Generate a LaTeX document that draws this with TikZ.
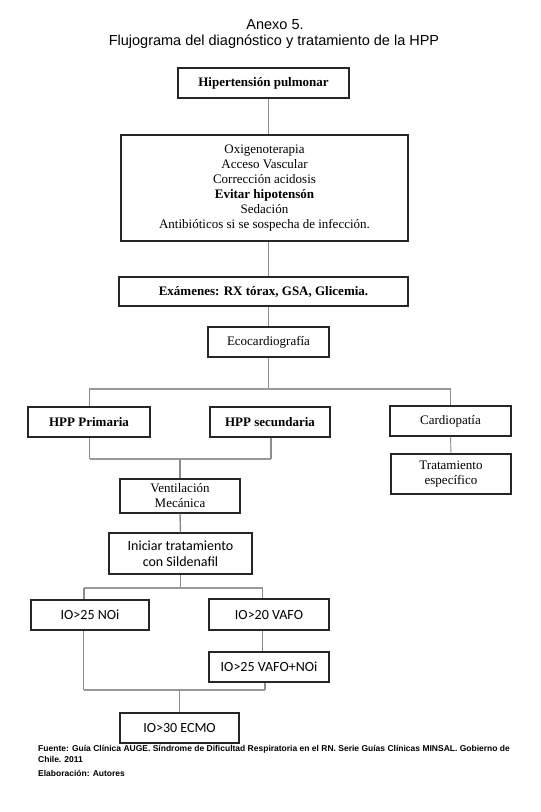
\documentclass[tikz,border=0pt]{standalone}
\usepackage{fontspec}
\setmainfont{Liberation Serif}
\newfontfamily\titlefont{Liberation Sans}
\newfontfamily\iofont{Carlito}
\begin{document}
\begin{tikzpicture}[x=1pt,y=-1pt,
  box/.style={draw=black!85,line width=1.4pt,inner sep=0pt,align=center,
    font=\fontsize{13}{15}\selectfont},
  iobox/.style={box,font=\iofont\fontsize{14}{16}\selectfont},
  conn/.style={draw=black!45,line width=0.9pt},
  hconn/.style={draw=black!40,line width=2pt}]
\useasboundingbox (0,0) rectangle (541,812);
\fill[white] (0,0) rectangle (541,812);
% title
\node[font=\titlefont\fontsize{14.5}{16}\selectfont] (t1) at (275,25) {Anexo 5.};
\node[font=\titlefont\fontsize{14.5}{16}\selectfont] (t2) at (274,42) {Flujograma del diagnóstico y tratamiento de la HPP};
% boxes
\node[box,minimum width=171pt,minimum height=30pt,font=\bfseries\fontsize{13}{15}\selectfont] (b1) at (263.5,83) {Hipertensión pulmonar};
\node[box,minimum width=287pt,minimum height=106pt] (b2) at (264.5,188) {Oxigenoterapia\\Acceso Vascular\\Corrección acidosis\\\textbf{Evitar hipotensón}\\Sedación\\Antibióticos si se sospecha de infección.};
\node[box,minimum width=289pt,minimum height=29pt,font=\bfseries\fontsize{13}{15}\selectfont] (b3) at (263.5,291.5) {Exámenes: RX tórax, GSA, Glicemia.};
\node[box,minimum width=121pt,minimum height=30pt] (b4) at (268.5,342) {Ecocardiografía};
\node[box,minimum width=122pt,minimum height=30pt,font=\bfseries\fontsize{13}{15}\selectfont] (prim) at (89,422) {HPP Primaria};
\node[box,minimum width=120pt,minimum height=30pt,font=\bfseries\fontsize{13}{15}\selectfont] (sec) at (270,422) {HPP secundaria};
\node[box,minimum width=121pt,minimum height=30pt] (card) at (450.5,421) {Cardiopatía};
\node[box,minimum width=120pt,minimum height=40pt] (trat) at (451,474) {Tratamiento\\específico};
\node[box,minimum width=120pt,minimum height=34pt] (vent) at (180,496) {Ventilación\\Mecánica};
\node[iobox,minimum width=143pt,minimum height=41pt] (ini) at (180.5,553.5) {Iniciar tratamiento\\con Sildenafil};
\node[iobox,minimum width=118pt,minimum height=30pt] (noi) at (90,615) {IO>25 NOi};
\node[iobox,minimum width=120pt,minimum height=31pt] (vafo) at (269,614.5) {IO>20 VAFO};
\node[iobox,minimum width=120pt,minimum height=30pt] (vn) at (269,667) {IO>25 VAFO+NOi};
\node[iobox,minimum width=119pt,minimum height=30pt] (ecmo) at (179.5,728) {IO>30 ECMO};
% connectors
\draw[conn] (b1.south -| b4) -- (b2.north -| b4);
\draw[conn] (b2.south -| b4) -- (b3.north -| b4);
\draw[conn] (b3.south -| b4) -- (b4.north);
\coordinate (j1) at (268.5,389);
\coordinate (j1l) at (89,389);
\coordinate (j1r) at (450.5,389);
\draw[conn] (b4.south) -- (j1);
\draw[hconn] (j1l) -- (j1r);
\draw[conn] (j1l) -- (prim.north);
\draw[conn] (j1r) -- (card.north);
\draw[conn] (card.south) -- (trat.north);
\coordinate (j2) at (180,459);
\coordinate (j2l) at (89.5,459);
\coordinate (j2r) at (271,459);
\draw[conn,line width=1.4pt] (prim.south -| j2l) -- (j2l);
\draw[conn,line width=1.4pt] (sec.south -| j2r) -- (j2r);
\draw[hconn] (j2l) -- (j2r);
\draw[conn,line width=1.4pt] (j2) -- (vent.north);
\draw[conn,line width=1.4pt] (vent.south) -- (ini.north);
\coordinate (j3) at (180.5,588);
\coordinate (j3l) at (84,588);
\coordinate (j3r) at (262.5,588);
\draw[conn,line width=1.4pt] (ini.south) -- (j3);
\draw[hconn] (j3l) -- (j3r);
\draw[conn,line width=1.4pt] (j3l) -- (noi.north -| j3l);
\draw[conn,line width=1.4pt] (j3r) -- (vafo.north -| j3r);
\draw[conn,line width=1.4pt] (vafo.south -| j3r) -- (vn.north -| j3r);
\coordinate (j4) at (179.5,690);
\coordinate (j4l) at (83.5,690);
\coordinate (j4r) at (265,690);
\draw[conn,line width=1.4pt] (noi.south -| j4l) -- (j4l);
\draw[conn,line width=1.4pt] (vn.south -| j4r) -- (j4r);
\draw[hconn] (j4l) -- (j4r);
\draw[conn,line width=1.4pt] (j4) -- (ecmo.north);
% footer
\node[anchor=north west,align=left,inner sep=0pt,font=\titlefont\bfseries\fontsize{8.5}{11.5}\selectfont] (foot) at (38,745)
 {Fuente: Guía Clínica AUGE. Síndrome de Dificultad Respiratoria en el RN. Serie Guías Clínicas MINSAL. Gobierno de\\Chile. 2011\\[2pt]Elaboración: Autores};
\end{tikzpicture}
\end{document}
